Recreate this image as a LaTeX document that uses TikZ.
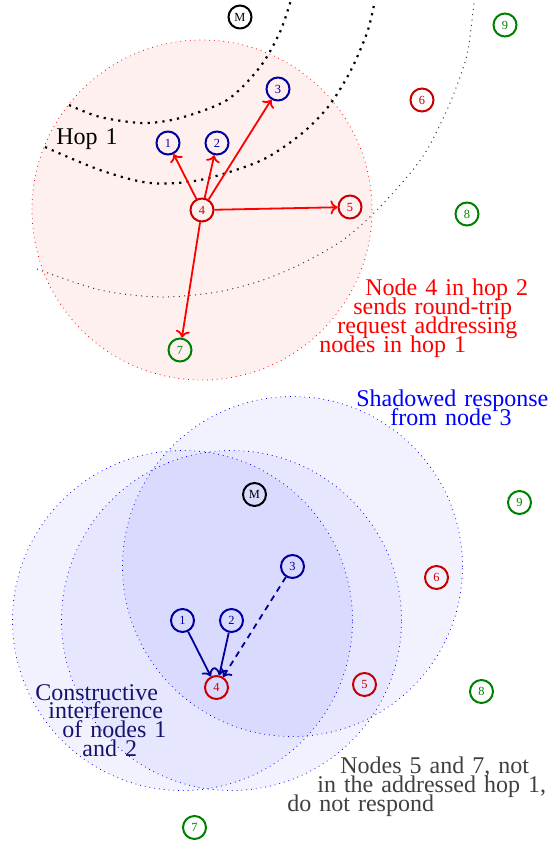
\documentclass[tikz,border=0pt]{standalone}
\usepackage{fontspec}
\setmainfont{Liberation Serif}
\usetikzlibrary{arrows.meta,backgrounds}
\definecolor{hopblue}{RGB}{0,0,160}
\definecolor{hopred}{RGB}{200,0,0}
\definecolor{hopgreen}{RGB}{0,128,0}
\definecolor{respblue}{RGB}{0,0,150}
\definecolor{notenavy}{RGB}{20,20,110}
\definecolor{notegrey}{RGB}{64,64,64}
\newcommand{\notetext}{\fontsize{12}{9.4}\selectfont\spaceskip=4pt plus 1pt\lineskiplimit=-20pt\relax}

\tikzset{
  mote/.style={circle,draw,line width=1pt,minimum size=11.5pt,inner sep=0pt,font=\fontsize{6.2}{7}\selectfont},
  master/.style={mote,draw=black,text=black},
  hopone/.style={mote,draw=hopblue,text=hopblue},
  hoptwo/.style={mote,draw=hopred,text=hopred},
  hopthree/.style={mote,draw=hopgreen,text=hopgreen},
  request/.style={-{To[length=3.5pt,width=7pt]},red,line width=0.9pt},
  response/.style={-{To[length=3.5pt,width=7pt]},respblue,line width=0.9pt},
  reach/.style={dotted,line width=0.4pt},
  hopline/.style={line width=1.1pt,dash pattern=on 1.1pt off 2.6pt},
  farline/.style={black!80,line width=0.5pt,dash pattern=on 0.5pt off 2.2pt},
  note/.style={align=left,inner sep=0pt,anchor=north west,font=\notetext},
}

\begin{document}
\begin{tikzpicture}[x=0.5pt,y=-0.5pt]
\useasboundingbox (0,0) rectangle (557,843);

% request: node 4 addresses hop 1
\node[master] (tm) at (240,17) {M};
\node[hopone] (t1) at (168,143) {1};
\node[hopone] (t2) at (217,143) {2};
\node[hopone] (t3) at (278,89) {3};
\node[hoptwo] (t4) at (202,210) {4};
\node[hoptwo] (t5) at (350,207) {5};
\node[hoptwo] (t6) at (422,100) {6};
\node[hopthree] (t7) at (180,350) {7};
\node[hopthree] (t8) at (467,214) {8};
\node[hopthree] (t9) at (505,25) {9};
\draw[request] (t4) -- (t1);
\draw[request] (t4) -- (t2);
\draw[request] (t4) -- (t3);
\draw[request] (t4) -- (t5);
\draw[request] (t4) -- (t7);
\node[anchor=base west,inner sep=0pt,font=\notetext] (hoplabel) at (56,144) {Hop 1};
\node[note,text=red] (reqnote) at (319,278.6) {\hspace*{23pt}Node 4 in hop 2\\\hspace*{17pt}sends round-trip\\\hspace*{9pt}request addressing\\nodes in hop 1};

% response: hop 1 answers
\begin{scope}[shift={(14.5,477.5)}]
\node[master] (bm) at (240,17) {M};
\node[hopone] (b1) at (168,143) {1};
\node[hopone] (b2) at (217,143) {2};
\node[hopone] (b3) at (278,89) {3};
\node[hoptwo] (b4) at (202,210) {4};
\node[hoptwo] (b5) at (350,207) {5};
\node[hoptwo] (b6) at (422,100) {6};
\node[hopthree] (b7) at (180,350) {7};
\node[hopthree] (b8) at (467,214) {8};
\node[hopthree] (b9) at (505,25) {9};
\end{scope}
\draw[response] (b1) -- (b4);
\draw[response] (b2) -- (b4);
\draw[response,dash pattern=on 3pt off 2.5pt] (b3) -- (b4);
\node[note,text=blue] (shadownote) at (356,389.6) {Shadowed response\\\hspace*{17pt}from node 3};
\node[note,text=notenavy] (constnote) at (35,683.8) {Constructive\\\hspace*{6.5pt}interference\\\hspace*{13.5pt}of nodes 1\\\hspace*{23.5pt}and 2};
\node[note,text=notegrey] (silentnote) at (287,756.6) {\hspace*{26.5pt}Nodes 5 and 7, not\\\hspace*{15pt}in the addressed hop 1,\\do not respond};

\begin{scope}[on background layer]
\fill[red!6] (t4) circle[radius=85pt];
\draw[reach,red] (t4) circle[radius=85pt];
\draw[hopline] plot[smooth] coordinates {(69,105) (100,117) (143,123) (180,118) (227,100) (260,67) (280,32) (291,0)};
\draw[hopline] plot[smooth] coordinates {(45,147) (100,170) (150,183) (200,180) (260,161) (300,135) (328,107) (350,72) (367,33) (374,5)};
\draw[farline] plot[smooth] coordinates {(37,269) (100,290) (160,297) (217,292) (263,280) (303,263) (343,240) (375,212) (407,177) (427,150) (447,110) (460,77) (468,50) (474,3)};
\fill[blue,fill opacity=0.05] (b1) circle[radius=85pt];
\fill[blue,fill opacity=0.05] (b2) circle[radius=85pt];
\fill[blue,fill opacity=0.05] (b3) circle[radius=85pt];
\draw[reach,blue] (b1) circle[radius=85pt];
\draw[reach,blue] (b2) circle[radius=85pt];
\draw[reach,blue] (b3) circle[radius=85pt];
\end{scope}
\end{tikzpicture}
\end{document}
